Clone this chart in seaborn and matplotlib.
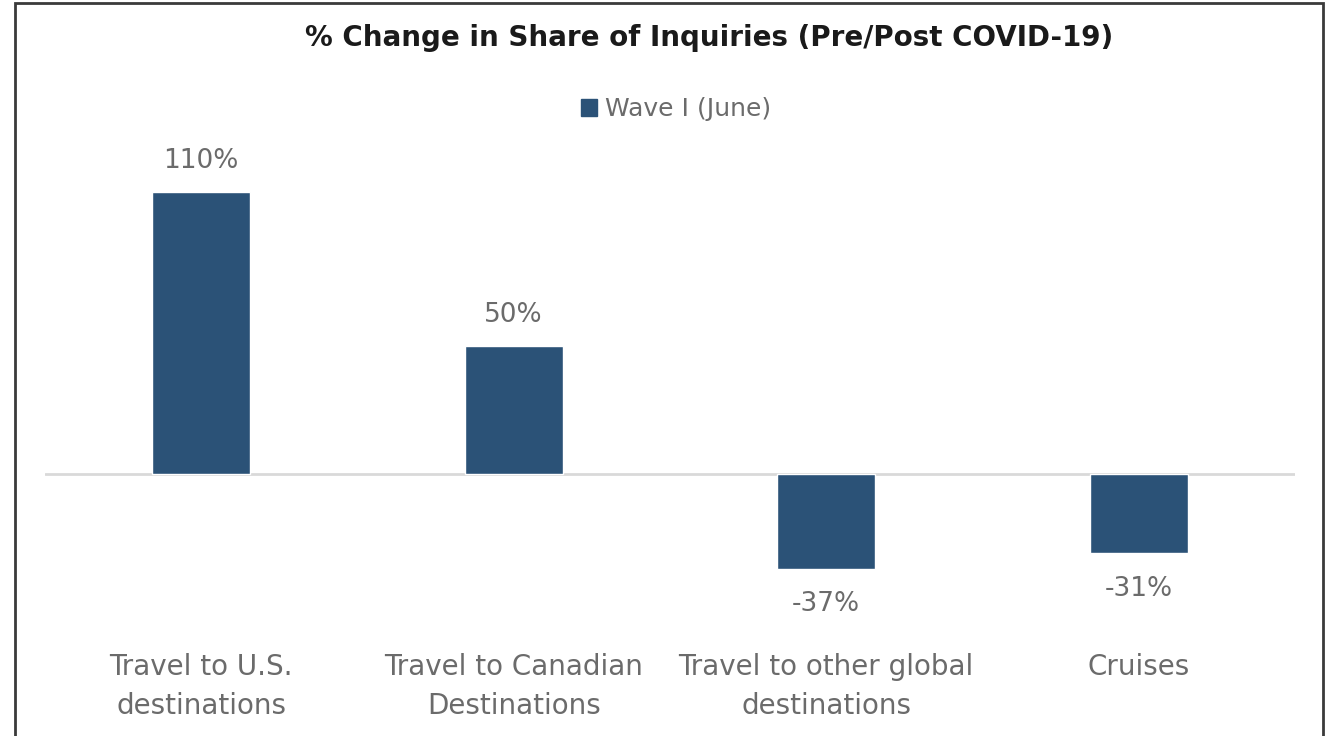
import matplotlib
matplotlib.use("Agg")
import matplotlib.pyplot as plt
import matplotlib.patches as mpatches
import seaborn as sns
import pandas as pd

categories = [
    "Travel to U.S.\ndestinations",
    "Travel to Canadian\nDestinations",
    "Travel to other global\ndestinations",
    "Cruises",
]
wave1_june = [110, 50, -37, -31]
series_name = "Wave I (June)"
title = "% Change in Share of Inquiries (Pre/Post COVID-19)"

bar_color = "#2B5277"
text_gray = "#6B6B6B"

sns.set_theme(style="white")
plt.rcParams["font.family"] = ["DejaVu Sans"]

df = pd.DataFrame({"category": categories, "value": wave1_june, "series": series_name})

W, H = 1330, 736
fig = plt.figure(figsize=(W / 100, H / 100), dpi=100)
ax = fig.add_axes([45 / W, 1 - 600 / H, 1250 / W, 450 / H])

sns.barplot(data=df, x="category", y="value", hue="series", palette=[bar_color],
            width=0.314, ax=ax, legend=False, saturation=1)

ax.set_xlim(-0.5, 3.5)
ax.set_ylim(-49.2, 126.6)
ax.axhline(0, color="#D9D9D9", lw=2, zorder=0)
for s in ax.spines.values():
    s.set_visible(False)
ax.set_yticks([])
ax.set_xlabel("")
ax.set_ylabel("")
ax.tick_params(axis="x", length=0, pad=38, labelsize=20, labelcolor=text_gray)
for lbl in ax.get_xticklabels():
    lbl.set_linespacing(1.5)

# value labels: a little closer above positive bars, a little further below negative ones
for cont in ax.containers:
    labels = ax.bar_label(cont, fmt="%.0f%%", padding=13, fontsize=19, color=text_gray)
    for txt, val in zip(labels, wave1_june):
        if val < 0:
            x, y = txt.xyann
            txt.xyann = (x, y - 3)

fig.text(709 / W, 1 - 38 / H, title, ha="center", va="center",
         fontsize=20, fontweight="bold", color="#1A1A1A")

handle = mpatches.Patch(color=bar_color, label=series_name)
fig.legend(handles=[handle], loc="center", bbox_to_anchor=(676 / W, 1 - 109 / H),
           frameon=False, fontsize=18, labelcolor=text_gray, handlelength=0.65,
           handleheight=0.65, handletextpad=0.3)

# outer frame around the chart
fig.add_artist(mpatches.Rectangle((15 / W, -0.05), (1323 - 15) / W, 1.05 - 3 / H,
                                  transform=fig.transFigure, fill=False,
                                  edgecolor="#3A3A3A", lw=2))

fig.savefig("out.png", dpi=100, facecolor="white")
